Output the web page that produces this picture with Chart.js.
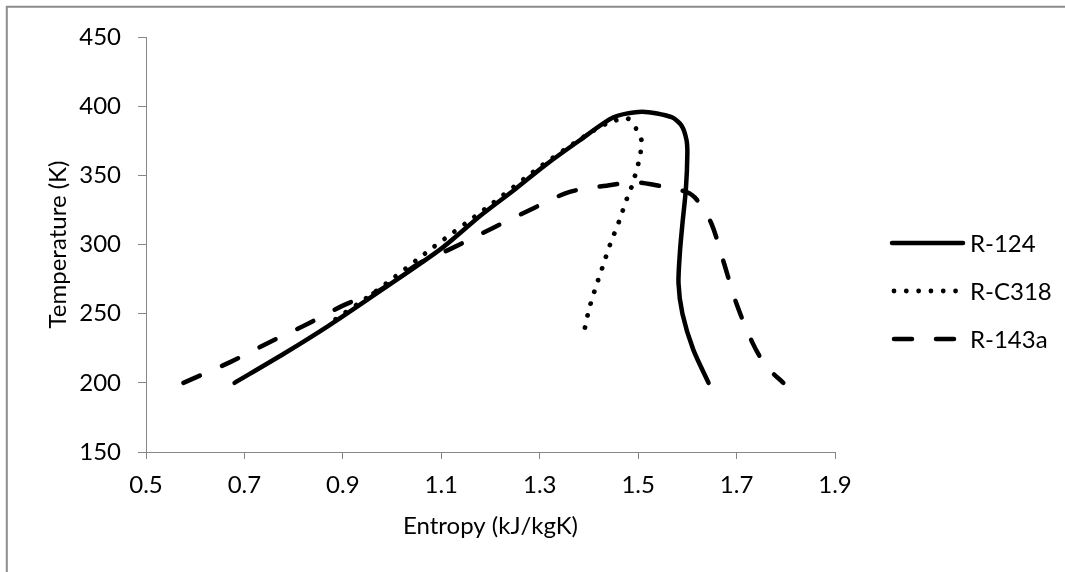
<!DOCTYPE html>
<html>
<head>
<meta charset="utf-8">
<script src="https://cdn.jsdelivr.net/npm/chart.js@4.4.1/dist/chart.umd.min.js"></script>
<style>
  html, body { margin: 0; padding: 0; background: #ffffff; }
  #wrap { width: 1065px; height: 572px; position: relative; }
</style>
</head>
<body>
<div id="wrap"><canvas id="c" width="1065" height="572"></canvas></div>
<script>
// ---- Data ----
const seriesNames = ['R-124', 'R-C318', 'R-143a'];

const r124Entropy = [0.68, 0.78, 0.87, 0.97, 1.10, 1.18, 1.25, 1.31, 1.38, 1.45, 1.508, 1.568, 1.588, 1.598, 1.600, 1.597, 1.590, 1.585, 1.582, 1.590, 1.612, 1.643];
const r124Temp    = [200, 221, 241, 265, 297, 321, 340, 357, 375, 392, 396, 392, 386, 376, 366, 340, 315, 295, 272, 250, 224, 200];

// R-C318 listed from the lower end of the right branch, over the top, down the left branch
const rc318Entropy = [1.392, 1.400, 1.411, 1.427, 1.443, 1.461, 1.477, 1.486, 1.493, 1.500, 1.505, 1.507, 1.497, 1.479, 1.44, 1.39, 1.30, 1.19, 1.08, 0.97, 0.865];
const rc318Temp    = [240, 253, 266, 283, 300, 316.5, 333, 341, 349, 358, 366.5, 375, 383, 391, 388, 378, 356, 326, 297, 267, 241];

const r143aEntropy = [0.576, 0.671, 0.749, 0.825, 0.901, 0.975, 1.053, 1.12, 1.205, 1.28, 1.361, 1.445, 1.49, 1.526, 1.598, 1.62, 1.649, 1.674, 1.699, 1.731, 1.760, 1.795];
const r143aTemp    = [200, 215, 229, 242, 256, 267, 286, 297, 312, 325, 338, 343, 345, 343.5, 338, 332, 315, 287, 258, 230, 212, 200];

const xTickValues = [0.5, 0.7, 0.9, 1.1, 1.3, 1.5, 1.7, 1.9];
const yTickValues = [150, 200, 250, 300, 350, 400, 450];
const xTitle = 'Entropy (kJ/kgK)';
const yTitle = 'Temperature (K)';

// ---- Build ----
const toPts = (xs, ys) => xs.map((x, i) => ({ x: x, y: ys[i] }));

const FONT = 'Lato, "Open Sans", sans-serif';
const FS = 24;
Chart.defaults.font.family = FONT;
Chart.defaults.font.size = FS;
Chart.defaults.color = '#000000';

const AXIS = '#868686';

const frame = {
  id: 'frame',
  beforeDraw(chart) {
    const ctx = chart.ctx;
    ctx.save();
    ctx.fillStyle = '#ffffff';
    ctx.fillRect(0, 0, chart.width, chart.height);
    ctx.strokeStyle = '#8c8c8c';
    ctx.lineWidth = 2;
    ctx.beginPath();
    ctx.moveTo(6.8, chart.height);
    ctx.lineTo(6.8, 6.8);
    ctx.lineTo(chart.width, 6.8);
    ctx.stroke();
    ctx.restore();
  }
};

const lineLegend = {
  id: 'lineLegend',
  afterDraw(chart) {
    const ctx = chart.ctx;
    const x0 = 892, x1 = 963, tx = 970;
    const rows = [243, 291, 339];
    ctx.save();
    chart.data.datasets.forEach((ds, i) => {
      const y = rows[i];
      ctx.strokeStyle = ds.borderColor;
      ctx.lineWidth = ds.borderWidth;
      ctx.lineCap = ds.borderCapStyle || 'butt';
      ctx.setLineDash(ds.borderDash || []);
      ctx.lineDashOffset = ds.legendDashOffset || 0;
      ctx.beginPath();
      ctx.moveTo(x0, y);
      ctx.lineTo(x1, y);
      ctx.stroke();
      ctx.setLineDash([]);
      ctx.fillStyle = '#000000';
      ctx.font = FS + 'px ' + FONT;
      ctx.textAlign = 'left';
      ctx.textBaseline = 'middle';
      ctx.fillText(ds.label, tx, y + 1);
    });
    ctx.restore();
  }
};

new Chart(document.getElementById('c'), {
  type: 'scatter',
  data: {
    datasets: [
      {
        label: seriesNames[0],
        data: toPts(r124Entropy, r124Temp),
        showLine: true, borderColor: '#000000', borderWidth: 4.5,
        borderCapStyle: 'round', borderJoinStyle: 'round',
        pointRadius: 0, tension: 0.25
      },
      {
        label: seriesNames[1],
        data: toPts(rc318Entropy, rc318Temp),
        showLine: true, borderColor: '#000000', borderWidth: 4.8,
        borderDash: [0.01, 12.3], borderCapStyle: 'round', borderJoinStyle: 'round',
        legendDashOffset: -2,
        pointRadius: 0, tension: 0.25
      },
      {
        label: seriesNames[2],
        data: toPts(r143aEntropy, r143aTemp),
        showLine: true, borderColor: '#000000', borderWidth: 4.5,
        borderDash: [18, 24], borderCapStyle: 'round', borderJoinStyle: 'round',
        legendDashOffset: -2,
        pointRadius: 0, tension: 0.3
      }
    ]
  },
  options: {
    responsive: false,
    animation: false,
    layout: { padding: { left: 0, top: 37, right: 230, bottom: 0 } },
    plugins: {
      legend: { display: false },
      tooltip: { enabled: false }
    },
    scales: {
      x: {
        type: 'linear',
        min: xTickValues[0],
        max: xTickValues[xTickValues.length - 1],
        afterBuildTicks: (s) => { s.ticks = xTickValues.map(v => ({ value: v })); },
        afterFit: (s) => { s.height = 120; },
        ticks: {
          callback: (v) => Number(v).toFixed(1),
          padding: 12,
          maxRotation: 0,
          autoSkip: false
        },
        grid: { display: true, drawOnChartArea: false, drawTicks: true, tickLength: 7, color: AXIS, lineWidth: 1 },
        border: { display: true, color: AXIS, width: 1 },
        title: { display: true, text: xTitle, padding: { top: 0, bottom: 31 }, font: { size: FS } }
      },
      y: {
        type: 'linear',
        min: yTickValues[0],
        max: yTickValues[yTickValues.length - 1],
        afterBuildTicks: (s) => { s.ticks = yTickValues.map(v => ({ value: v })); },
        afterFit: (s) => { s.width = 146; },
        ticks: {
          callback: (v) => String(v),
          padding: 17,
          autoSkip: false
        },
        grid: { display: true, drawOnChartArea: false, drawTicks: true, tickLength: 8, color: AXIS, lineWidth: 1 },
        border: { display: true, color: AXIS, width: 1 },
        title: { display: true, text: yTitle, padding: { top: 44, bottom: 0 }, font: { size: FS } }
      }
    }
  },
  plugins: [frame, lineLegend]
});
</script>
</body>
</html>
